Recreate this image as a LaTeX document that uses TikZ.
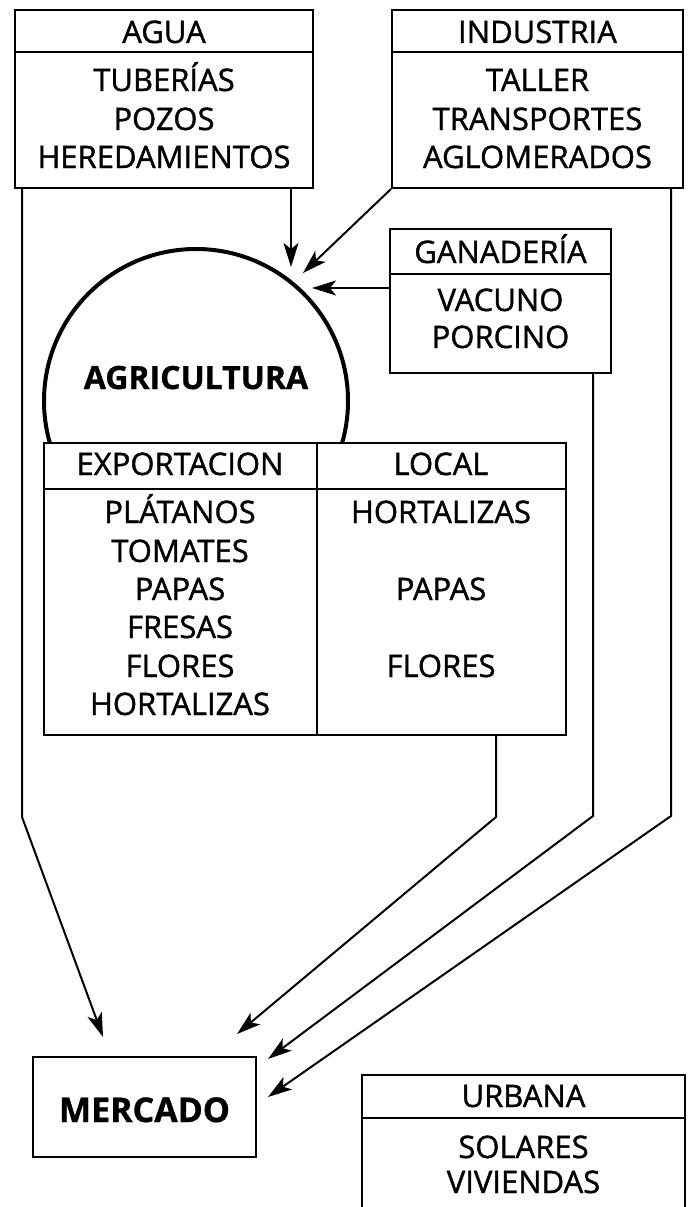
\documentclass[tikz,border=0pt]{standalone}
\usepackage{fontspec}
\setmainfont{Open Sans}
\newfontfamily\lblfont{Open Sans}[FakeBold=1.2]
\newfontfamily\blblfont{Open Sans Bold}[FakeBold=0.9]
\usetikzlibrary{arrows.meta,calc}
\begin{document}
\begin{tikzpicture}[x=1pt,y=-1pt,
  box/.style={draw,line width=2pt,inner sep=0pt,rectangle},
  lbl/.style={anchor=base,inner sep=0pt,font=\lblfont\fontsize{31}{36}\selectfont},
  blbl/.style={anchor=base,inner sep=0pt,font=\blblfont\fontsize{32}{36}\selectfont},
  conn/.style={line width=2pt},
  arr/.style={conn,-{Stealth[length=24pt,width=15pt,inset=6pt]}},
]
\useasboundingbox (0,0) rectangle (688,1207);

% AGUA
\node[box,minimum width=298pt,minimum height=178pt] (agua) at (164,99) {};
\draw[conn] (agua.west |- 0,52) -- (agua.east |- 0,52);
\node[lbl] (aguaT) at (164,43) {AGUA};
\node[lbl] (agua1) at (164,91) {TUBERÍAS};
\node[lbl] (agua2) at (164,130) {POZOS};
\node[lbl] (agua3) at (164,168) {HEREDAMIENTOS};

% INDUSTRIA
\node[box,minimum width=291pt,minimum height=178pt] (indus) at (537.5,99) {};
\draw[conn] (indus.west |- 0,52) -- (indus.east |- 0,52);
\node[lbl] (indusT) at (537.5,43) {INDUSTRIA};
\node[lbl] (indus1) at (537.5,91) {TALLER};
\node[lbl] (indus2) at (537.5,130) {TRANSPORTES};
\node[lbl] (indus3) at (537.5,168) {AGLOMERADOS};

% GANADERIA
\node[box,minimum width=221pt,minimum height=144pt] (ganad) at (500.5,301) {};
\draw[conn] (ganad.west |- 0,274) -- (ganad.east |- 0,274);
\node[lbl] (ganadT) at (500.5,263) {GANADERÍA};
\node[lbl] (ganad1) at (500.5,311) {VACUNO};
\node[lbl] (ganad2) at (500.5,348) {PORCINO};

% AGRICULTURA
\node[draw,circle,line width=4pt,minimum size=304pt,inner sep=0pt] (agri) at (196,401) {};
\node[blbl] (agriT) at (196,389) {AGRICULTURA};

% table
\node[box,fill=white,minimum width=522pt,minimum height=292pt] (tabla) at (305,589) {};
\draw[conn] (tabla.west |- 0,489) -- (tabla.east |- 0,489);
\draw[conn] (tabla.north -| 317,0) -- (tabla.south -| 317,0);
\node[lbl] (expT) at (180,475) {EXPORTACION};
\node[lbl] (locT) at (441,475) {LOCAL};
\node[lbl] (e1) at (180,523) {PLÁTANOS};
\node[lbl] (e2) at (180,562) {TOMATES};
\node[lbl] (e3) at (180,600) {PAPAS};
\node[lbl] (e4) at (180,638) {FRESAS};
\node[lbl] (e5) at (180,677) {FLORES};
\node[lbl] (e6) at (180,715) {HORTALIZAS};
\node[lbl] (l1) at (441,523) {HORTALIZAS};
\node[lbl] (l3) at (441,600) {PAPAS};
\node[lbl] (l5) at (441,677) {FLORES};

% MERCADO
\node[box,minimum width=223pt,minimum height=100pt] (merc) at (144.5,1107) {};
\node[blbl,font=\blblfont\fontsize{34}{36}\selectfont] (mercT) at (144.5,1122) {MERCADO};

% URBANA (cut off by the page edge)
\begin{scope}
\clip (0,0) rectangle (688,1207);
\node[box,minimum width=323pt,minimum height=160pt] (urb) at (523.5,1155) {};
\draw[conn] (urb.west |- 0,1118) -- (urb.east |- 0,1118);
\node[lbl] (urbT) at (523.5,1107) {URBANA};
\node[lbl] (urb1) at (523.5,1158) {SOLARES};
\node[lbl] (urb2) at (523.5,1193) {VIVIENDAS};
\end{scope}

% coordinates
\coordinate (tA) at (291,267);
\coordinate (tI) at (303,273);
\coordinate (tG) at (312,288);
\coordinate (b1) at (22,817);
\coordinate (b2) at (496,817);
\coordinate (b3) at (593,816);
\coordinate (b4) at (671,816);
\coordinate (m1) at (103,1037);
\coordinate (m2) at (237,1034);
\coordinate (m3) at (268,1059);
\coordinate (m4) at (268,1097);

% connectors to agriculture
\draw[arr] (agua.south -| tA) -- (tA);
\draw[arr] (indus.south west) -- (tI);
\draw[arr] (ganad.west |- tG) -- (tG);

% connectors to market
\draw[arr] (agua.south -| b1) -- (b1) -- (m1);
\draw[arr] (tabla.south -| b2) -- (b2) -- (m2);
\draw[arr] (ganad.south -| b3) -- (b3) -- (m3);
\draw[arr] (indus.south -| b4) -- (b4) -- (m4);
\end{tikzpicture}
\end{document}
